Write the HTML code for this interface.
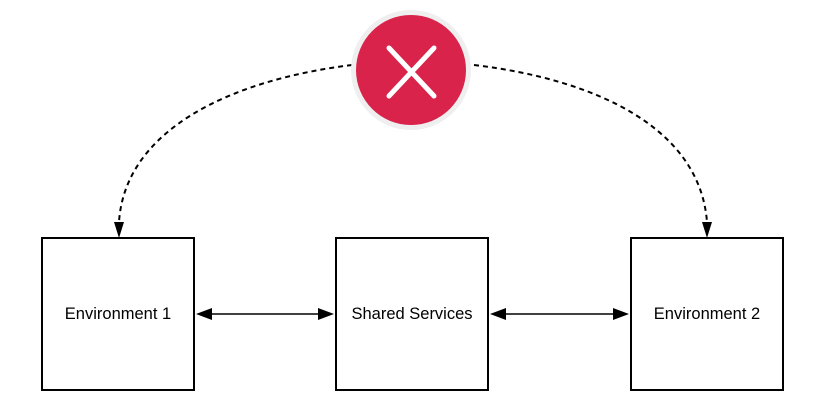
<!DOCTYPE html>
<html><head><style>body{margin:0;background:#fff}svg{display:block}</style></head><body>
<svg width="826" height="405" xmlns="http://www.w3.org/2000/svg" font-family="Liberation Sans, Arial, sans-serif">
<path d="M352,65 C230,80 125,130 119,222" fill="none" stroke="#000" stroke-width="2" stroke-dasharray="5,4"/>
<path d="M114,222 L124,222 L119,238 z" fill="#000"/>
<path d="M474,65 C600,80 700,130 707,222" fill="none" stroke="#000" stroke-width="2" stroke-dasharray="5,4"/>
<path d="M702,222 L712,222 L707,238 z" fill="#000"/>
<circle cx="411" cy="70" r="60" fill="#efefef"/>
<circle cx="411" cy="70" r="55" fill="#d9234a"/>
<path d="M389,48 L434,96 M434,48 L389,96" stroke="#fff" stroke-width="5" stroke-linecap="round"/>
<rect x="42" y="238" width="152" height="152" fill="#fff" stroke="#000" stroke-width="2"/>
<rect x="336" y="238" width="152" height="152" fill="#fff" stroke="#000" stroke-width="2"/>
<rect x="631" y="238" width="152" height="152" fill="#fff" stroke="#000" stroke-width="2"/>
<text x="118" y="319" font-size="16.5" text-anchor="middle">Environment 1</text>
<text x="412" y="319" font-size="16.5" text-anchor="middle">Shared Services</text>
<text x="707" y="319" font-size="16.5" text-anchor="middle">Environment 2</text>
<line x1="210" y1="314" x2="320" y2="314" stroke="#000" stroke-width="1.5"/>
<path d="M196,314 L212,308 L212,320 z M334,314 L318,308 L318,320 z" fill="#000"/>
<line x1="505" y1="314" x2="615" y2="314" stroke="#000" stroke-width="1.5"/>
<path d="M490,314 L506,308 L506,320 z M629,314 L613,308 L613,320 z" fill="#000"/>
</svg>
</body></html>
